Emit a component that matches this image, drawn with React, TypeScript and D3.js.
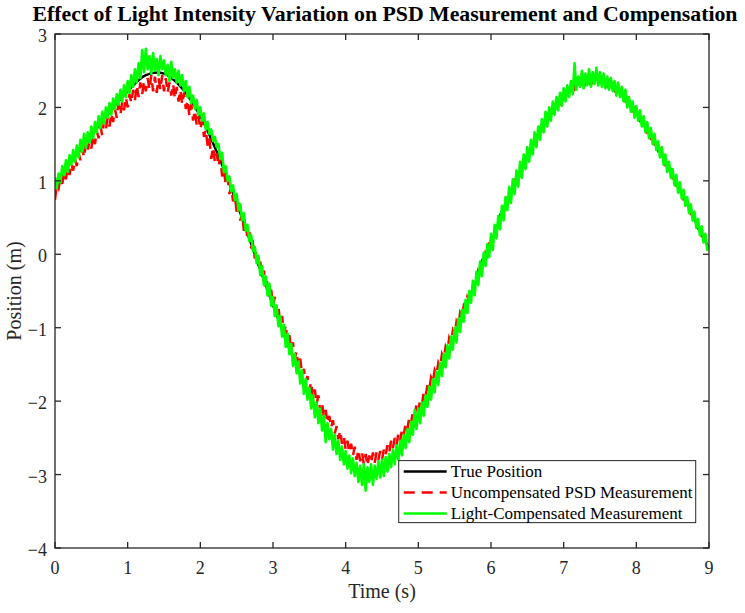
import React, { useEffect, useRef } from "react";
import * as d3 from "d3";

// true position, sampled every 0.25 s
const truePosition = [
  0.95, 1.3, 1.62, 1.94, 2.22, 2.44, 2.46, 2.26, 1.88, 1.34, 0.7, 0.0, -0.69,
  -1.34, -1.92, -2.4, -2.77, -2.97, -2.92, -2.64, -2.22, -1.7, -1.11, -0.48,
  0.16, 0.78, 1.34, 1.82, 2.16, 2.35, 2.38, 2.24, 1.93, 1.53, 1.07, 0.58, 0.08,
];

// PSD readings, sampled every 0.025 s (one row = 0.25 s)
const uncompensated = [
  0.74, 0.96, 0.9, 1.04, 0.96, 1.12, 1.02, 1.18, 1.08, 1.24,
  1.14, 1.3, 1.2, 1.38, 1.28, 1.44, 1.32, 1.5, 1.4, 1.56,
  1.44, 1.62, 1.5, 1.68, 1.58, 1.74, 1.62, 1.82, 1.7, 1.86,
  1.74, 1.92, 1.8, 1.98, 1.86, 2.04, 1.9, 2.08, 1.96, 2.14,
  2.0, 2.18, 2.06, 2.24, 2.1, 2.3, 2.14, 2.34, 2.18, 2.36,
  2.22, 2.4, 2.24, 2.44, 2.22, 2.42, 2.2, 2.4, 2.24, 2.44,
  2.22, 2.4, 2.2, 2.34, 2.16, 2.32, 2.12, 2.28, 2.08, 2.24,
  2.04, 2.2, 1.98, 2.1, 1.88, 2.04, 1.82, 1.96, 1.76, 1.88,
  1.7, 1.82, 1.6, 1.7, 1.48, 1.58, 1.3, 1.46, 1.26, 1.38,
  1.2, 1.32, 1.06, 1.16, 0.94, 1.04, 0.82, 0.92, 0.72, 0.8,
  0.58, 0.7, 0.46, 0.56, 0.32, 0.42, 0.2, 0.3, 0.08, 0.14,
  -0.06, 0.06, -0.18, -0.1, -0.32, -0.22, -0.44, -0.34, -0.58, -0.48,
  -0.7, -0.58, -0.82, -0.72, -0.94, -0.84, -1.08, -0.96, -1.2, -1.1,
  -1.3, -1.2, -1.42, -1.32, -1.54, -1.42, -1.64, -1.56, -1.74, -1.66,
  -1.86, -1.74, -1.96, -1.84, -2.04, -1.92, -2.14, -2.02, -2.22, -2.12,
  -2.3, -2.2, -2.36, -2.26, -2.44, -2.34, -2.52, -2.4, -2.58, -2.48,
  -2.66, -2.54, -2.7, -2.58, -2.74, -2.62, -2.8, -2.66, -2.82, -2.7,
  -2.86, -2.72, -2.88, -2.74, -2.84, -2.7, -2.84, -2.7, -2.8, -2.68,
  -2.8, -2.66, -2.74, -2.6, -2.7, -2.54, -2.64, -2.5, -2.6, -2.44,
  -2.54, -2.38, -2.46, -2.3, -2.38, -2.22, -2.3, -2.14, -2.2, -2.04,
  -2.14, -1.98, -2.04, -1.88, -1.94, -1.78, -1.84, -1.68, -1.74, -1.58,
  -1.64, -1.48, -1.54, -1.36, -1.42, -1.26, -1.32, -1.14, -1.2, -1.04,
  -1.1, -0.92, -0.98, -0.8, -0.86, -0.7, -0.74, -0.58, -0.62, -0.46,
  -0.5, -0.34, -0.38, -0.22, -0.26, -0.1, -0.14, 0.02, -0.02, 0.14,
  0.12, 0.26, 0.24, 0.4, 0.36, 0.52, 0.48, 0.64, 0.62, 0.76,
  0.74, 0.88, 0.86, 1.0, 0.96, 1.1, 1.08, 1.22, 1.2, 1.32,
  1.3, 1.42, 1.4, 1.52, 1.5, 1.62, 1.6, 1.72, 1.7, 1.8,
  1.78, 1.9, 1.86, 1.96, 1.93, 2.03, 2.0, 2.1, 2.06, 2.16,
  2.13, 2.21, 2.18, 2.26, 2.21, 2.29, 2.25, 2.32, 2.28, 2.36,
  2.32, 2.39, 2.33, 2.4, 2.34, 2.41, 2.35, 2.41, 2.35, 2.41,
  2.35, 2.4, 2.33, 2.38, 2.3, 2.36, 2.27, 2.32, 2.24, 2.29,
  2.21, 2.24, 2.15, 2.18, 2.09, 2.12, 2.02, 2.05, 1.96, 1.99,
  1.9, 1.92, 1.82, 1.84, 1.74, 1.76, 1.66, 1.68, 1.58, 1.6,
  1.5, 1.52, 1.41, 1.43, 1.32, 1.33, 1.22, 1.24, 1.13, 1.15,
  1.04, 1.05, 0.94, 0.95, 0.84, 0.86, 0.75, 0.76, 0.65, 0.66,
  0.55, 0.56, 0.45, 0.46, 0.35, 0.36, 0.25, 0.26, 0.15, 0.16,
  0.08,
];

const compensated = [
  1.05, 0.9, 1.1, 0.98, 1.2, 1.08, 1.28, 1.12, 1.35, 1.22,
  1.42, 1.26, 1.48, 1.32, 1.56, 1.4, 1.64, 1.45, 1.66, 1.52,
  1.74, 1.58, 1.8, 1.66, 1.88, 1.72, 1.94, 1.78, 2.0, 1.86,
  2.06, 1.9, 2.12, 1.98, 2.18, 2.04, 2.24, 2.08, 2.3, 2.14,
  2.36, 2.2, 2.44, 2.28, 2.52, 2.34, 2.6, 2.4, 2.78, 2.48,
  2.8, 2.52, 2.7, 2.46, 2.74, 2.5, 2.66, 2.44, 2.7, 2.52,
  2.64, 2.44, 2.58, 2.36, 2.62, 2.4, 2.52, 2.34, 2.5, 2.3,
  2.44, 2.22, 2.36, 2.14, 2.28, 2.06, 2.16, 1.98, 2.1, 1.9,
  2.0, 1.82, 1.92, 1.7, 1.8, 1.64, 1.7, 1.54, 1.6, 1.46,
  1.5, 1.3, 1.38, 1.12, 1.2, 1.0, 1.06, 0.86, 0.94, 0.74,
  0.82, 0.6, 0.68, 0.46, 0.56, 0.32, 0.4, 0.18, 0.26, 0.04,
  0.1, -0.12, -0.02, -0.28, -0.16, -0.42, -0.3, -0.56, -0.4, -0.7,
  -0.58, -0.84, -0.7, -0.98, -0.84, -1.12, -0.96, -1.26, -1.08, -1.36,
  -1.22, -1.52, -1.36, -1.62, -1.46, -1.76, -1.58, -1.9, -1.7, -1.98,
  -1.82, -2.1, -1.92, -2.22, -2.02, -2.3, -2.1, -2.4, -2.2, -2.56,
  -2.3, -2.52, -2.38, -2.66, -2.46, -2.72, -2.54, -2.8, -2.62, -2.86,
  -2.68, -2.92, -2.74, -2.98, -2.78, -3.02, -2.84, -3.1, -2.88, -3.14,
  -2.86, -3.22, -2.9, -3.1, -2.86, -3.14, -2.88, -3.06, -2.82, -3.04,
  -2.8, -3.02, -2.76, -2.96, -2.72, -2.9, -2.66, -2.86, -2.6, -2.8,
  -2.54, -2.74, -2.46, -2.64, -2.38, -2.56, -2.28, -2.46, -2.12, -2.38,
  -2.1, -2.3, -2.02, -2.2, -1.92, -2.08, -1.8, -1.98, -1.7, -1.88,
  -1.6, -1.78, -1.48, -1.66, -1.36, -1.54, -1.24, -1.42, -1.12, -1.3,
  -1.0, -1.2, -0.88, -1.06, -0.76, -0.92, -0.62, -0.8, -0.5, -0.66,
  -0.36, -0.56, -0.24, -0.42, -0.1, -0.3, 0.02, -0.16, 0.14, -0.04,
  0.28, 0.06, 0.4, 0.22, 0.52, 0.34, 0.66, 0.46, 0.78, 0.6,
  0.92, 0.7, 1.02, 0.82, 1.14, 0.92, 1.26, 1.04, 1.36, 1.16,
  1.46, 1.26, 1.56, 1.36, 1.66, 1.46, 1.74, 1.56, 1.84, 1.66,
  1.94, 1.74, 2.0, 1.82, 2.08, 1.9, 2.14, 1.96, 2.2, 2.02,
  2.26, 2.08, 2.3, 2.14, 2.36, 2.18, 2.6, 2.24, 2.42, 2.28,
  2.5, 2.26, 2.46, 2.3, 2.52, 2.28, 2.48, 2.32, 2.54, 2.3,
  2.48, 2.28, 2.46, 2.26, 2.42, 2.24, 2.4, 2.22, 2.36, 2.16,
  2.34, 2.14, 2.28, 2.08, 2.24, 2.0, 2.14, 1.94, 2.08, 1.86,
  2.02, 1.82, 1.96, 1.74, 1.88, 1.66, 1.8, 1.58, 1.72, 1.5,
  1.64, 1.42, 1.54, 1.32, 1.46, 1.22, 1.36, 1.12, 1.26, 1.04,
  1.16, 0.94, 1.08, 0.84, 0.98, 0.76, 0.88, 0.66, 0.78, 0.56,
  0.68, 0.46, 0.58, 0.36, 0.48, 0.26, 0.38, 0.16, 0.28, 0.06,
  0.12,
];

const trueTime = truePosition.map((_, i) => i * 0.25);
const sampleTime = compensated.map((_, i) => i * 0.025);

const xTicks = [0, 1, 2, 3, 4, 5, 6, 7, 8, 9];
const yTicks = [-4, -3, -2, -1, 0, 1, 2, 3];

const legendItems = [
  { label: "True Position", color: "#000000", dash: null as string | null },
  { label: "Uncompensated PSD Measurement", color: "#ff0000", dash: "11,7" },
  { label: "Light-Compensated Measurement", color: "#00ff00", dash: null },
];

const FONT = "'Liberation Serif', 'Times New Roman', serif";
const AXIS = "#262626";

export default function App() {
  const ref = useRef<SVGSVGElement | null>(null);

  useEffect(() => {
    const width = 745;
    const height = 613;
    const margin = { top: 34, right: 36, bottom: 65, left: 55 };
    const w = width - margin.left - margin.right;
    const h = height - margin.top - margin.bottom;

    const svg = d3.select(ref.current);
    svg.selectAll("*").remove();
    svg.append("rect").attr("width", width).attr("height", height).attr("fill", "#fff");

    const g = svg.append("g").attr("transform", `translate(${margin.left},${margin.top})`);

    const x = d3.scaleLinear().domain([0, 9]).range([0, w]);
    const y = d3.scaleLinear().domain([-4, 3]).range([h, 0]);

    svg.append("defs").append("clipPath").attr("id", "plot-clip")
      .append("rect").attr("width", w).attr("height", h);

    const lines = g.append("g").attr("clip-path", "url(#plot-clip)");

    const smooth = d3.line<number>()
      .x((_, i) => x(trueTime[i]))
      .y(d => y(d))
      .curve(d3.curveCatmullRom);
    const jagged = d3.line<number>()
      .x((_, i) => x(sampleTime[i]))
      .y(d => y(d));

    lines.append("path").attr("d", smooth(truePosition))
      .attr("fill", "none").attr("stroke", "#000").attr("stroke-width", 2.5);
    lines.append("path").attr("d", jagged(uncompensated))
      .attr("fill", "none").attr("stroke", "#ff0000").attr("stroke-width", 2.5)
      .attr("stroke-dasharray", "11,7");
    lines.append("path").attr("d", jagged(compensated))
      .attr("fill", "none").attr("stroke", "#00ff00").attr("stroke-width", 2.6)
      .attr("stroke-linejoin", "round");

    // box with inward ticks on all sides
    g.append("rect").attr("width", w).attr("height", h)
      .attr("fill", "none").attr("stroke", AXIS).attr("stroke-width", 1.3);

    const tl = 6;
    xTicks.forEach(t => {
      g.append("line").attr("x1", x(t)).attr("x2", x(t)).attr("y1", h).attr("y2", h - tl)
        .attr("stroke", AXIS).attr("stroke-width", 1.3);
      g.append("line").attr("x1", x(t)).attr("x2", x(t)).attr("y1", 0).attr("y2", tl)
        .attr("stroke", AXIS).attr("stroke-width", 1.3);
      g.append("text").attr("x", x(t)).attr("y", h + 26)
        .attr("text-anchor", "middle").attr("font-family", FONT).attr("font-size", 18)
        .attr("fill", AXIS).text(String(t));
    });
    yTicks.forEach(t => {
      g.append("line").attr("x1", 0).attr("x2", tl).attr("y1", y(t)).attr("y2", y(t))
        .attr("stroke", AXIS).attr("stroke-width", 1.3);
      g.append("line").attr("x1", w).attr("x2", w - tl).attr("y1", y(t)).attr("y2", y(t))
        .attr("stroke", AXIS).attr("stroke-width", 1.3);
      g.append("text").attr("x", -8).attr("y", y(t) + 8)
        .attr("text-anchor", "end").attr("font-family", FONT).attr("font-size", 18)
        .attr("fill", AXIS).text(t < 0 ? `\u2212${Math.abs(t)}` : String(t));
    });

    g.append("text").attr("x", w / 2).attr("y", h + 50)
      .attr("text-anchor", "middle").attr("font-family", FONT).attr("font-size", 20)
      .attr("fill", AXIS).text("Time (s)");
    g.append("text").attr("transform", `translate(${-34},${h / 2}) rotate(-90)`)
      .attr("text-anchor", "middle").attr("font-family", FONT).attr("font-size", 20)
      .attr("fill", AXIS).text("Position (m)");

    svg.append("text").attr("x", 385).attr("y", 21)
      .attr("text-anchor", "middle").attr("font-family", FONT).attr("font-size", 21.8)
      .attr("font-weight", "bold").attr("fill", "#000")
      .text("Effect of Light Intensity Variation on PSD Measurement and Compensation");

    // legend
    const lg = g.append("g").attr("transform", `translate(${x(4.73)},${y(-2.81)})`);
    lg.append("rect").attr("width", 297).attr("height", 62)
      .attr("fill", "#fff").attr("stroke", AXIS).attr("stroke-width", 1);
    legendItems.forEach((item, i) => {
      const ly = 11 + i * 21;
      lg.append("line").attr("x1", 5).attr("x2", 48).attr("y1", ly).attr("y2", ly)
        .attr("stroke", item.color).attr("stroke-width", 2.5)
        .attr("stroke-dasharray", item.dash ?? null);
      lg.append("text").attr("x", 52).attr("y", ly + 5)
        .attr("font-family", FONT).attr("font-size", 17).attr("fill", "#000")
        .text(item.label);
    });
  }, []);

  return (
    <svg ref={ref} width={745} height={613}
      style={{ position: "absolute", left: 0, top: 0, display: "block" }} />
  );
}
